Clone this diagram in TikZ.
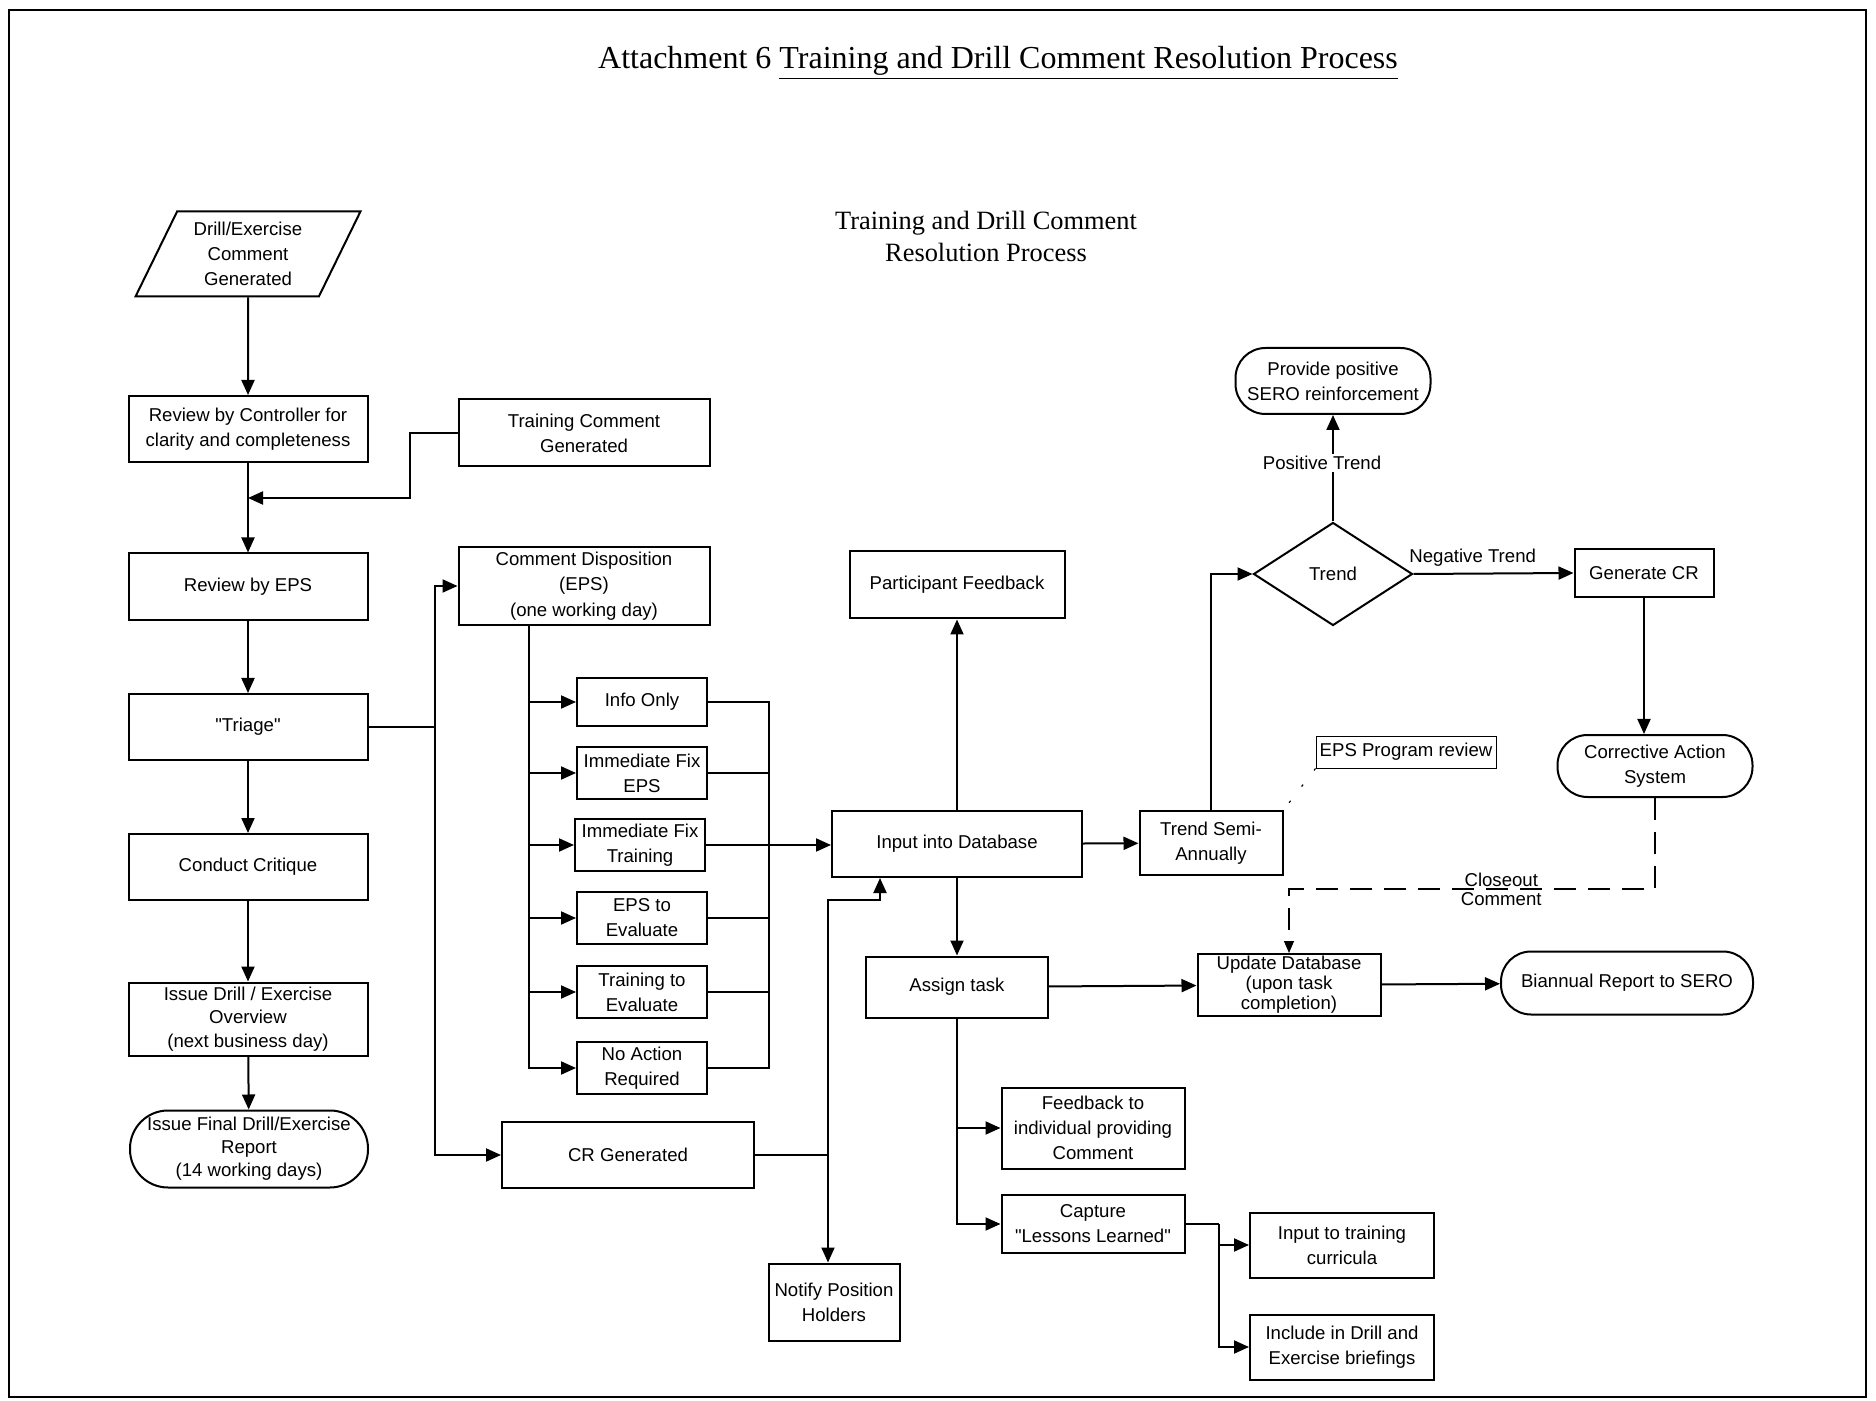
\documentclass[tikz,border=0pt]{standalone}
\usepackage{fontspec}
\setmainfont{Liberation Sans}[Ligatures=TeXOff]
\newfontfamily\timesfont{Liberation Serif}
\usetikzlibrary{positioning,shapes.geometric,arrows.meta}
\tikzset{
  box/.style={draw, line width=1pt, align=center, inner sep=1pt},
  term/.style={box, rounded corners=15pt},
  opt/.style={box, minimum width=65pt, minimum height=26pt},
  arr/.style={line width=1pt, -{Triangle[length=7.5pt,width=6.5pt]}},
  feed/.style={line width=0.6pt},
  closeout/.style={line width=0.6pt, dash pattern=on 11pt off 6pt, -{Triangle[length=6pt,width=5pt]}}
}
\begin{document}
\begin{tikzpicture}[x=0.5pt, y=-0.5pt, font=\fontsize{9.3pt}{12.5pt}\selectfont]
    \useasboundingbox (0,0) rectangle (1876,1401);
    \draw[line width=1.3pt] (9,10) rectangle (1866,1397);
    \node[font=\timesfont\fontsize{16pt}{19pt}\selectfont] (T) at (998,63) {Attachment 6 \underline{Training and Drill Comment Resolution Process}};
    \node[align=center, font=\timesfont\fontsize{13.2pt}{16pt}\selectfont] (S) at (986,236) {Training and Drill Comment\\Resolution Process};

    \node[box, trapezium, trapezium left angle=64, trapezium right angle=116, trapezium stretches=true, minimum width=112.5pt, minimum height=42.5pt] (DC) at (248,254) {Drill/Exercise\\Comment\\Generated};
    \node[box, minimum width=119.5pt, minimum height=33pt] (RC) at (248,429) {Review by Controller for\\clarity and completeness};
    \node[box, minimum width=125.5pt, minimum height=33.5pt] (TC) at (584,433) {Training Comment\\Generated};
    \node[box, minimum width=119.5pt, minimum height=33.5pt] (RE) at (248,587) {Review by EPS};
    \node[box, minimum width=119.5pt, minimum height=33pt] (TR) at (248,727) {"Triage"};
    \node[box, minimum width=119.5pt, minimum height=33pt] (CC) at (248,867) {Conduct Critique};
    \node[box, minimum width=119.5pt, minimum height=36.5pt, font=\fontsize{9.3pt}{11.8pt}\selectfont] (ID) at (248,1019) {Issue Drill / Exercise\\Overview\\(next business day)};
    \node[term, rounded corners=19pt, minimum width=119pt, minimum height=38.5pt, font=\fontsize{9.3pt}{11.5pt}\selectfont] (FR) at (249,1149) {Issue Final Drill/Exercise\\Report\\(14 working days)};

    \node[box, minimum width=125.5pt, minimum height=39pt, font=\fontsize{9.3pt}{12.9pt}\selectfont] (CD) at (584,586) {Comment Disposition\\(EPS)\\(one working day)};
    \node[opt, minimum height=24pt] (IO) at (642,702) {Info Only};
    \node[opt] (FE) at (642,773) {Immediate Fix\\EPS};
    \node[opt] (FT) at (640,845) {Immediate Fix\\Training};
    \node[opt] (EE) at (642,918) {EPS to\\Evaluate};
    \node[opt] (TE) at (642,992) {Training to\\Evaluate};
    \node[opt] (NA) at (642,1068) {No Action\\Required};
    \node[box, minimum width=126pt, minimum height=33pt] (CR) at (628,1155) {CR Generated};
    \node[box, minimum width=65.5pt, minimum height=38.5pt] (NP) at (834,1302) {Notify Position\\Holders};

    \node[box, minimum width=125pt, minimum height=33pt] (DB) at (957,844) {Input into Database};
    \node[box, minimum width=107.5pt, minimum height=33.5pt] (PF) at (957,585) {Participant Feedback};
    \node[box, minimum width=91pt, minimum height=30.5pt] (AT) at (957,987) {Assign task};
    \node[box, minimum width=91.5pt, minimum height=40.5pt] (FB) at (1093,1128) {Feedback to\\individual providing\\Comment};
    \node[box, minimum width=91.5pt, minimum height=29pt] (LL) at (1093,1224) {Capture\\"Lessons Learned"};
    \node[box, minimum width=92pt, minimum height=32.5pt] (IT) at (1342,1245) {Input to training\\curricula};
    \node[box, minimum width=92pt, minimum height=32.5pt] (IB) at (1342,1347) {Include in Drill and\\Exercise briefings};
    \node[box, minimum width=91.5pt, minimum height=31pt, inner sep=0pt, font=\fontsize{9.3pt}{10pt}\selectfont] (UD) at (1289,985) {Update Database\\(upon task\\completion)};
    \node[term, minimum width=126pt, minimum height=31.5pt] (BR) at (1627,983) {Biannual Report to SERO};

    \node[box, minimum width=71.5pt, minimum height=32pt] (TS) at (1211,843) {Trend Semi-\\Annually};
    \node[draw, line width=0.5pt, minimum width=90pt, minimum height=16pt, inner sep=1pt] (PR) at (1406,752) {EPS Program review};
    \node[box, diamond, minimum width=79.5pt, minimum height=51.5pt, inner sep=0pt] (TD) at (1333,574) {Trend};
    \node[term, minimum width=97.5pt, minimum height=33pt] (PP) at (1333,381) {Provide positive\\SERO reinforcement};
    \node[box, minimum width=69.5pt, minimum height=24pt] (GC) at (1644,573) {Generate CR};
    \node[term, minimum width=97.5pt, minimum height=31pt] (CA) at (1655,766) {Corrective Action\\System};

    \coordinate (M) at (248,498);
    \coordinate (TJ) at (435,727);
    \coordinate (CB) at (529,625);
    \coordinate (CO) at (769,845);
    \coordinate (CJ) at (828,1155);
    \coordinate (CX) at (1289,889);
    \coordinate (LJ) at (1219,1224);

    \draw[arr] (DC) -- (RC);
    \draw[arr] (RC) -- (RE);
    \draw[arr] (TC.west) -| (410,498) -- (M);
    \draw[arr] (RE) -- (TR);
    \draw[arr] (TR) -- (CC);
    \draw[arr] (CC) -- (ID);
    \draw[arr] (ID) -- (FR);
    \draw[line width=1pt] (TR.east) -- (TJ);
    \draw[arr] (TJ) |- (CD.west);
    \draw[arr] (TJ) |- (CR.west);
    \foreach \n in {IO,FE,FT,EE,TE,NA} \draw[arr] (CB) |- (\n.west);
    \foreach \n in {IO,FE,FT,EE,TE,NA} \draw[feed] (\n.east) -| (CO);
    \draw[arr] (FT.east) -- (FT.east -| DB.west);
    \draw[line width=1pt] (CR.east) -- (CJ);
    \draw[arr] (CJ) -- (828,900) -| ([xshift=24.5pt]DB.south west);
    \draw[arr] (CJ) -- (CJ |- NP.north);
    \draw[arr] (DB) -- (PF);
    \draw[arr] (DB) -- (AT);
    \draw[arr] (DB) -- (TS);
    \draw[arr] (TS.north) |- (TD.west);
    \draw[arr] (TD.north) -- node[pos=0.55, xshift=-5.5pt, fill=white, inner sep=1pt] {Positive Trend} (PP.south);
    \draw[arr] (TD.east) -- node[above, pos=0.37] {Negative Trend} (GC.west);
    \draw[arr] (GC.south) -- (GC.south |- CA.north);
    \draw[closeout] (CA.south) |- node[pos=0.71, align=center, font=\fontsize{9.3pt}{9.5pt}\selectfont] {Closeout\\Comment} (CX) -- (UD.north);
    \draw[feed, dash pattern=on 1.2pt off 9pt] (PR.south west) -- (TS.north east);
    \draw[arr] (AT) -- (UD);
    \draw[arr] (UD) -- (BR);
    \draw[arr] (AT.south) |- (FB.west);
    \draw[arr] (AT.south) |- (LL.west);
    \draw[line width=1pt] (LL.east) -- (LJ);
    \draw[arr] (LJ) |- (IT.west);
    \draw[arr] (LJ) |- (IB.west);
\end{tikzpicture}
\end{document}
